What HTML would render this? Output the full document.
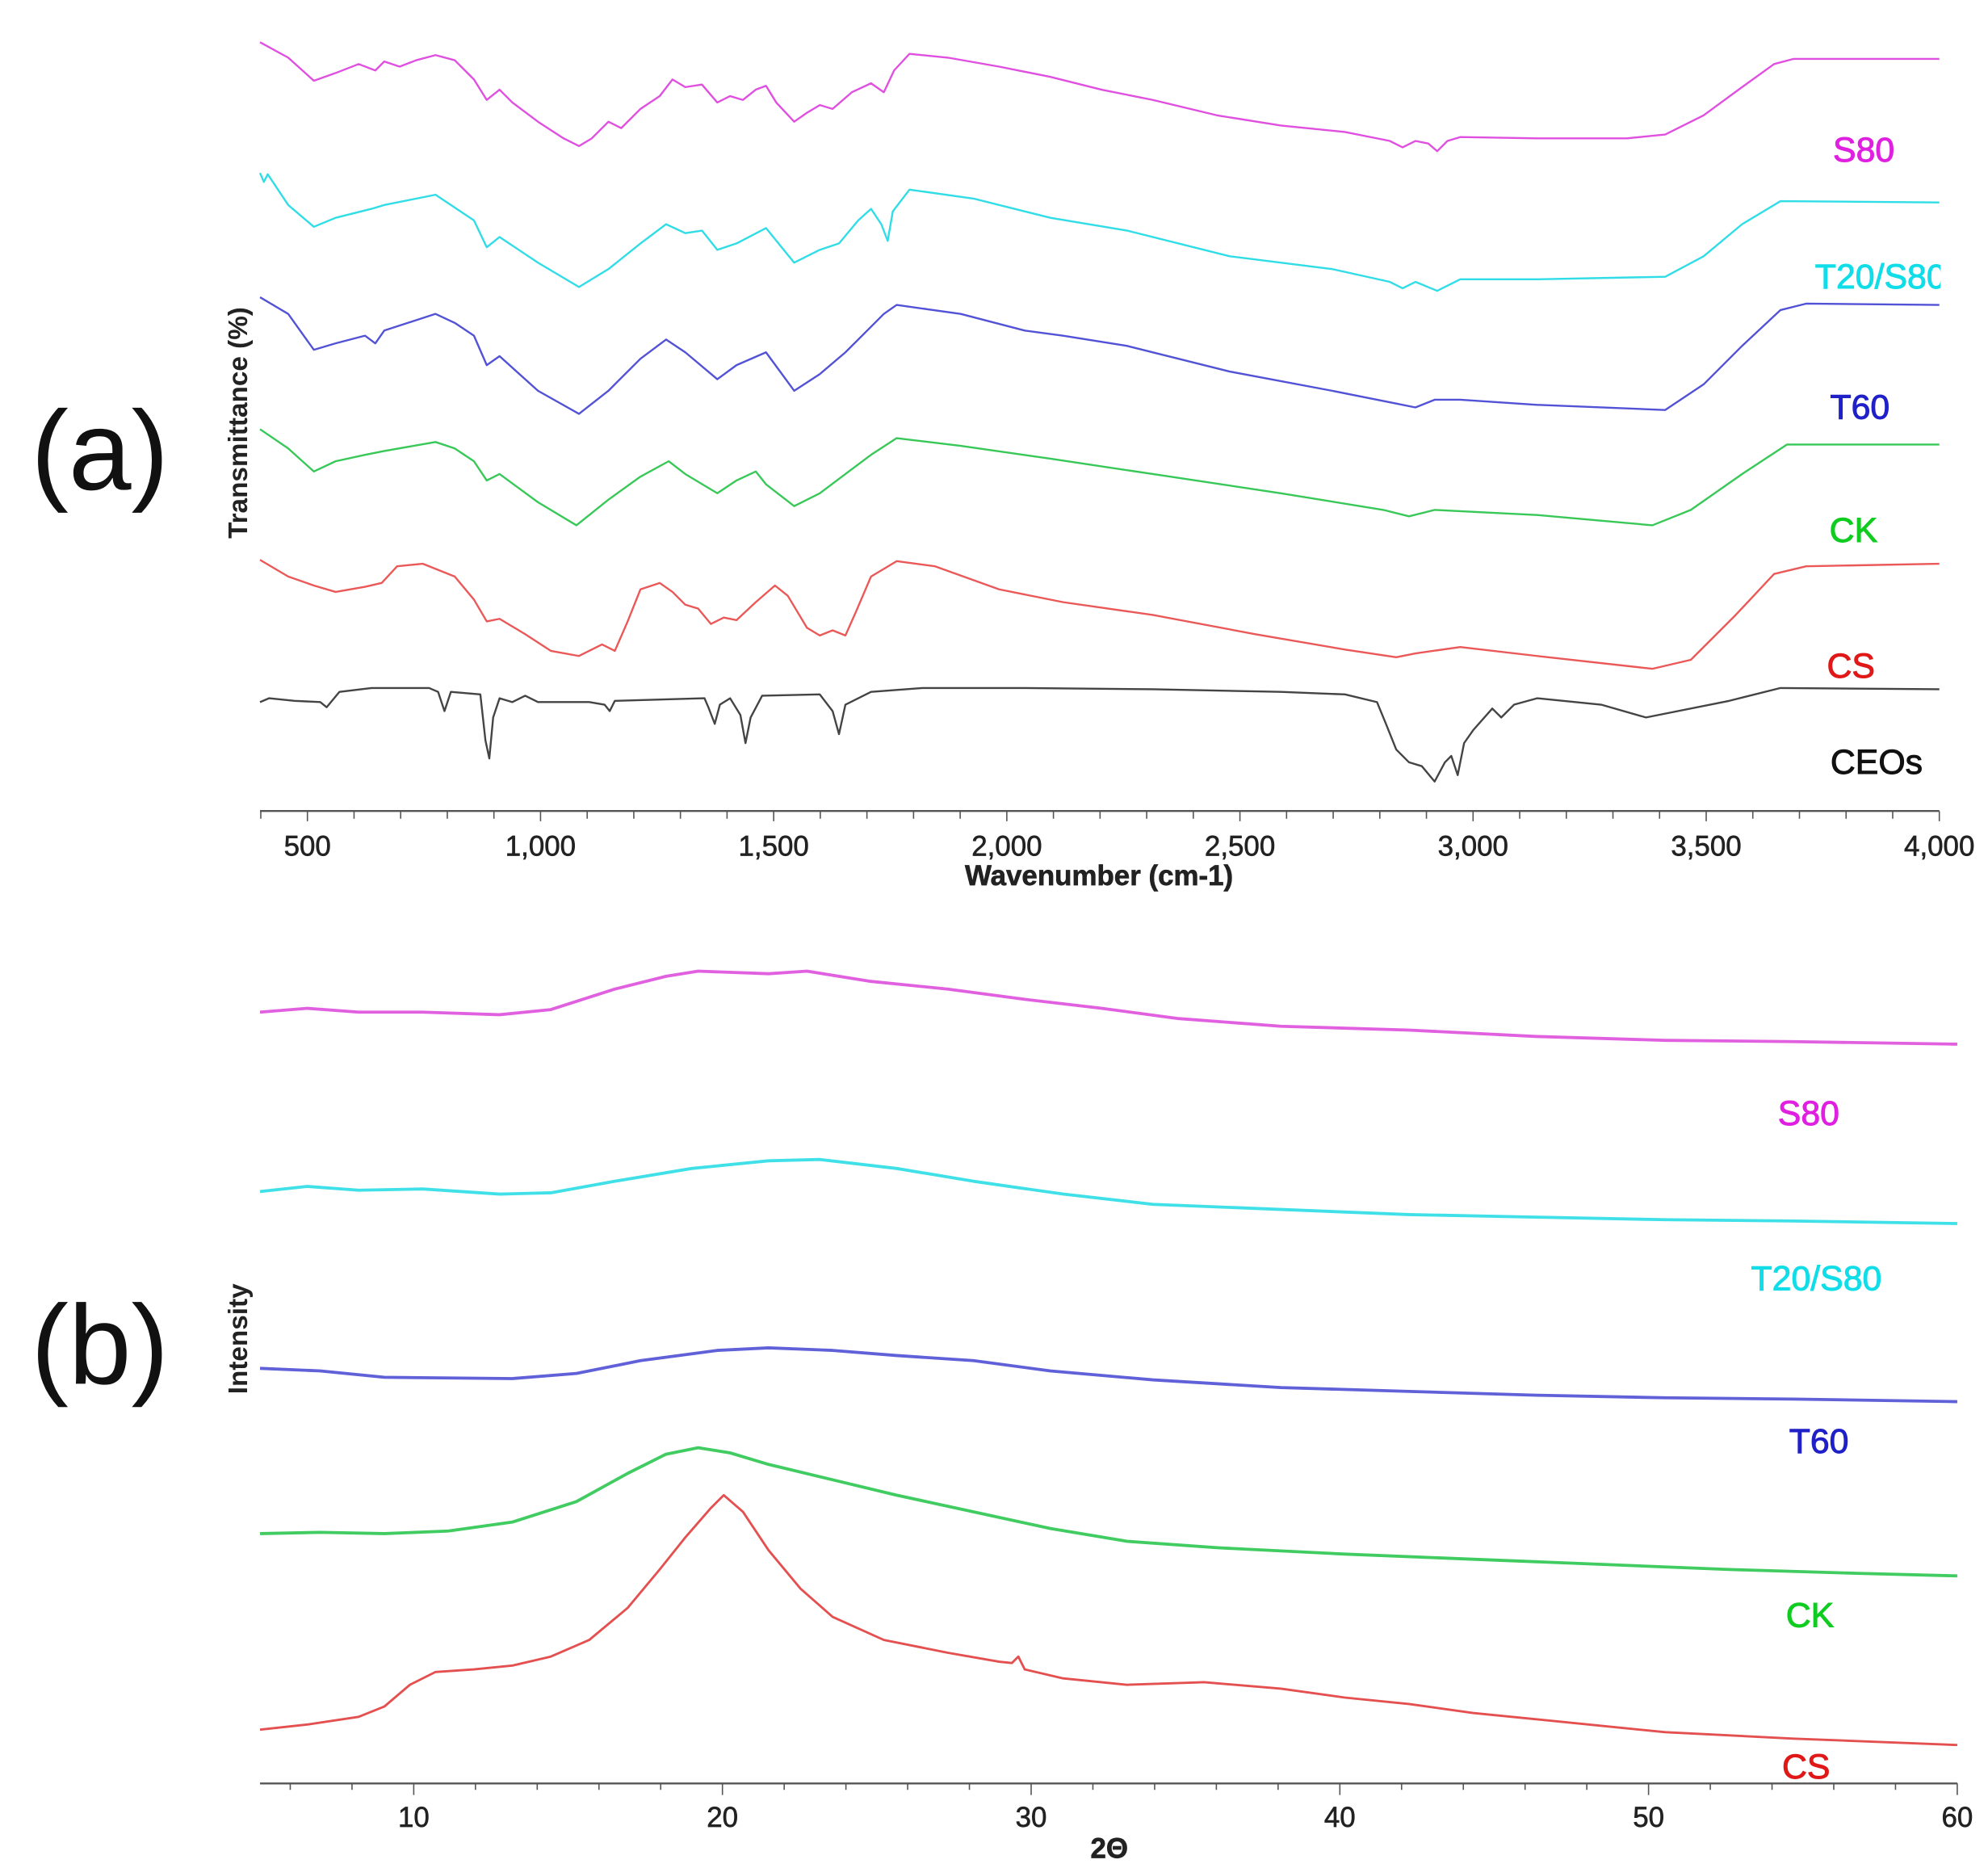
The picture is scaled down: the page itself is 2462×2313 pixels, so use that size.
<!DOCTYPE html>
<html><head><meta charset="utf-8"><style>
html,body{margin:0;padding:0;background:#fff;}
svg{display:block;}
text{font-family:"Liberation Sans",sans-serif;}
</style></head><body>
<svg width="2462" height="2313" viewBox="0 0 1552 1458" preserveAspectRatio="none" xmlns="http://www.w3.org/2000/svg">
<rect width="1552" height="1458" fill="#fff"/>
<g fill="none" stroke-width="1.5" stroke-linejoin="round">
<!-- panel a -->
<polyline stroke="#e050e0" points="203,33 225,45 245,63 262,57 280,50 293,55 300,48 312,52 325,47 340,43 355,47 370,62 380,78 390,70 400,80 420,95 440,108 452,114 462,108 475,95 485,100 500,85 515,75 525,62 535,68 548,66 560,80 570,75 580,78 590,70 598,67 606,80 620,95 630,88 640,82 650,85 665,72 680,65 690,72 698,55 710,42 740,45 780,52 820,60 860,70 900,78 950,90 1000,98 1050,103 1085,110 1095,115 1105,110 1115,112 1122,118 1130,110 1140,107 1200,108 1270,108 1300,105 1330,90 1360,68 1385,50 1400,46 1514,46"/>
<polyline stroke="#30dde6" points="203,135 206,142 209,136 225,160 245,177 262,170 290,163 300,160 340,152 370,172 380,193 390,185 420,205 452,224 475,210 500,190 520,175 535,182 548,180 560,195 575,190 598,178 620,205 640,195 655,190 670,172 680,163 688,175 693,188 697,165 710,148 760,155 820,170 880,180 960,200 1040,210 1085,220 1095,225 1105,220 1122,227 1140,218 1200,218 1300,216 1330,200 1360,175 1390,157 1514,158"/>
<polyline stroke="#5252d6" points="203,232 225,245 245,273 262,268 285,262 293,268 300,258 340,245 355,252 370,262 380,285 390,278 420,305 452,323 475,305 500,280 520,265 535,275 560,296 575,285 598,275 620,305 640,292 660,275 680,255 690,245 700,238 750,245 800,258 830,262 880,270 960,290 1040,305 1090,315 1105,318 1120,312 1140,312 1200,316 1300,320 1330,300 1360,270 1390,242 1410,237 1514,238"/>
<polyline stroke="#38c858" points="203,335 225,350 245,368 262,360 285,355 300,352 340,345 355,350 370,360 380,375 390,370 420,392 450,410 475,390 500,372 522,360 535,370 560,385 575,375 590,368 598,378 620,395 640,385 660,370 680,355 700,342 750,348 820,358 900,370 1000,385 1080,398 1100,403 1120,398 1200,402 1290,410 1320,398 1360,370 1395,347 1514,347"/>
<polyline stroke="#ea5858" points="203,437 225,450 245,457 262,462 285,458 298,455 310,442 330,440 355,450 370,468 380,485 390,483 410,495 430,508 452,512 470,503 480,508 490,485 500,460 515,455 525,462 535,472 545,475 555,487 565,482 575,484 590,470 605,457 615,465 630,490 640,496 650,492 660,496 668,478 680,450 700,438 730,442 780,460 830,470 900,480 980,495 1050,507 1090,513 1105,510 1140,505 1200,512 1290,522 1320,515 1355,480 1385,448 1410,442 1514,440"/>
<polyline stroke="#444" points="203,548 210,545 230,547 250,548 255,552 265,540 290,537 335,537 342,540 347,555 352,540 375,542 379,578 382,592 385,560 390,545 400,548 410,543 420,548 460,548 472,550 476,555 480,547 550,545 553,552 558,565 562,550 570,545 578,558 582,580 586,560 595,543 640,542 650,555 655,573 660,550 680,540 720,537 800,537 900,538 1000,540 1050,542 1075,548 1082,565 1090,585 1100,595 1110,598 1120,610 1128,595 1133,590 1138,605 1143,580 1150,570 1165,553 1172,560 1182,550 1200,545 1250,550 1285,560 1300,557 1350,547 1390,537 1514,538"/>
<!-- panel b -->
<g stroke-width="2.4">
<polyline stroke="#e060e0" points="203,790 240,787 280,790 330,790 390,792 430,788 480,772 520,762 545,758 600,760 630,758 680,766 740,772 800,780 860,787 920,795 1000,801 1100,804 1200,809 1300,812 1400,813 1528,815"/>
<polyline stroke="#40e0e8" points="203,930 240,926 280,929 330,928 390,932 430,931 480,922 540,912 600,906 640,905 700,912 760,922 830,932 900,940 1000,944 1100,948 1200,950 1300,952 1400,953 1528,955"/>
<polyline stroke="#6060d8" points="203,1068 250,1070 300,1075 400,1076 450,1072 500,1062 560,1054 600,1052 650,1054 700,1058 760,1062 820,1070 900,1077 1000,1083 1100,1086 1200,1089 1300,1091 1400,1092 1528,1094"/>
<polyline stroke="#40cc60" points="203,1197 250,1196 300,1197 350,1195 400,1188 450,1172 490,1150 520,1135 545,1130 570,1134 600,1143 650,1155 700,1167 760,1180 820,1193 880,1203 950,1208 1050,1213 1150,1217 1250,1221 1350,1225 1450,1228 1528,1230"/>
<polyline stroke="#e45050" stroke-width="1.8" points="203,1350 240,1346 280,1340 300,1332 320,1315 340,1305 370,1303 400,1300 430,1293 460,1280 490,1255 515,1225 535,1200 555,1177 565,1167 580,1180 600,1210 625,1240 650,1262 690,1280 740,1290 780,1297 790,1298 795,1293 800,1303 830,1310 880,1315 940,1313 1000,1318 1050,1325 1100,1330 1150,1337 1200,1342 1300,1352 1400,1357 1528,1362"/>
</g>
</g>
<!-- axes -->
<g stroke="#555" stroke-width="1.5">
<line x1="203" y1="633" x2="1514" y2="633"/>
<line x1="203" y1="1392" x2="1528" y2="1392"/>
</g>
<g stroke="#555" stroke-width="1">
<path d="M203.6,633v6M240,633v8M276.4,633v6M312.8,633v6M349.2,633v6M385.6,633v6M422,633v8M458.4,633v6M494.8,633v6M531.2,633v6M567.6,633v6M604,633v8M640.4,633v6M676.8,633v6M713.2,633v6M749.6,633v6M786,633v8M822.4,633v6M858.8,633v6M895.2,633v6M931.6,633v6M968,633v8M1004.4,633v6M1040.8,633v6M1077.2,633v6M1113.6,633v6M1150,633v8M1186.4,633v6M1222.8,633v6M1259.2,633v6M1295.6,633v6M1332,633v8M1368.4,633v6M1404.8,633v6M1441.2,633v6M1477.6,633v6M1514,633v8"/>
<path d="M226.6,1392v5M274.8,1392v5M323,1392v9M371.2,1392v5M419.4,1392v5M467.6,1392v5M515.8,1392v5M564,1392v9M612.2,1392v5M660.4,1392v5M708.6,1392v5M756.8,1392v5M805,1392v9M853.2,1392v5M901.4,1392v5M949.6,1392v5M997.8,1392v5M1046,1392v9M1094.2,1392v5M1142.4,1392v5M1190.6,1392v5M1238.8,1392v5M1287,1392v9M1335.2,1392v5M1383.4,1392v5M1431.6,1392v5M1479.8,1392v5M1528,1392v9"/>
</g>
<g font-size="22" fill="#222" text-anchor="middle" stroke="#222" stroke-width="0.4">
<text x="240" y="668">500</text><text x="422" y="668">1,000</text><text x="604" y="668">1,500</text><text x="786" y="668">2,000</text><text x="968" y="668">2,500</text><text x="1150" y="668">3,000</text><text x="1332" y="668">3,500</text><text x="1514" y="668">4,000</text>
<text x="858" y="691" font-weight="bold">Wavenumber (cm-1)</text>
<text x="323" y="1426">10</text><text x="564" y="1426">20</text><text x="805" y="1426">30</text><text x="1046" y="1426">40</text><text x="1287" y="1426">50</text><text x="1528" y="1426">60</text>
<text x="866" y="1450" font-weight="bold">2Θ</text>
</g>
<text transform="translate(193,330) rotate(-90)" font-size="21" font-weight="bold" fill="#222" text-anchor="middle">Transmittance (%)</text>
<text transform="translate(193,1045) rotate(-90)" font-size="21" font-weight="bold" fill="#222" text-anchor="middle">Intensity</text>
<text x="78" y="382" font-size="88" text-anchor="middle" fill="#111">(a)</text>
<text x="78" y="1080" font-size="88" text-anchor="middle" fill="#111">(b)</text>
<g font-size="27" text-anchor="middle" stroke-width="0.6">
<text x="1455" y="126" fill="#e020e0" stroke="#e020e0">S80</text>
<text x="1468" y="225" fill="#10dde8" stroke="#10dde8">T20/S80</text>
<text x="1452" y="327" fill="#2020c8" stroke="#2020c8">T60</text>
<text x="1447" y="423" fill="#10cc20" stroke="#10cc20">CK</text>
<text x="1445" y="529" fill="#e01818" stroke="#e01818">CS</text>
<text x="1465" y="604" fill="#111" stroke="#111">CEOs</text>
<text x="1412" y="878" fill="#e020e0" stroke="#e020e0">S80</text>
<text x="1418" y="1007" fill="#10dde8" stroke="#10dde8">T20/S80</text>
<text x="1420" y="1134" fill="#2020c8" stroke="#2020c8">T60</text>
<text x="1413" y="1270" fill="#10cc20" stroke="#10cc20">CK</text>
<text x="1410" y="1388" fill="#e01818" stroke="#e01818">CS</text>
</g>
<rect x="1515" y="195" width="40" height="40" fill="#fff"/>
</svg>
</body></html>
